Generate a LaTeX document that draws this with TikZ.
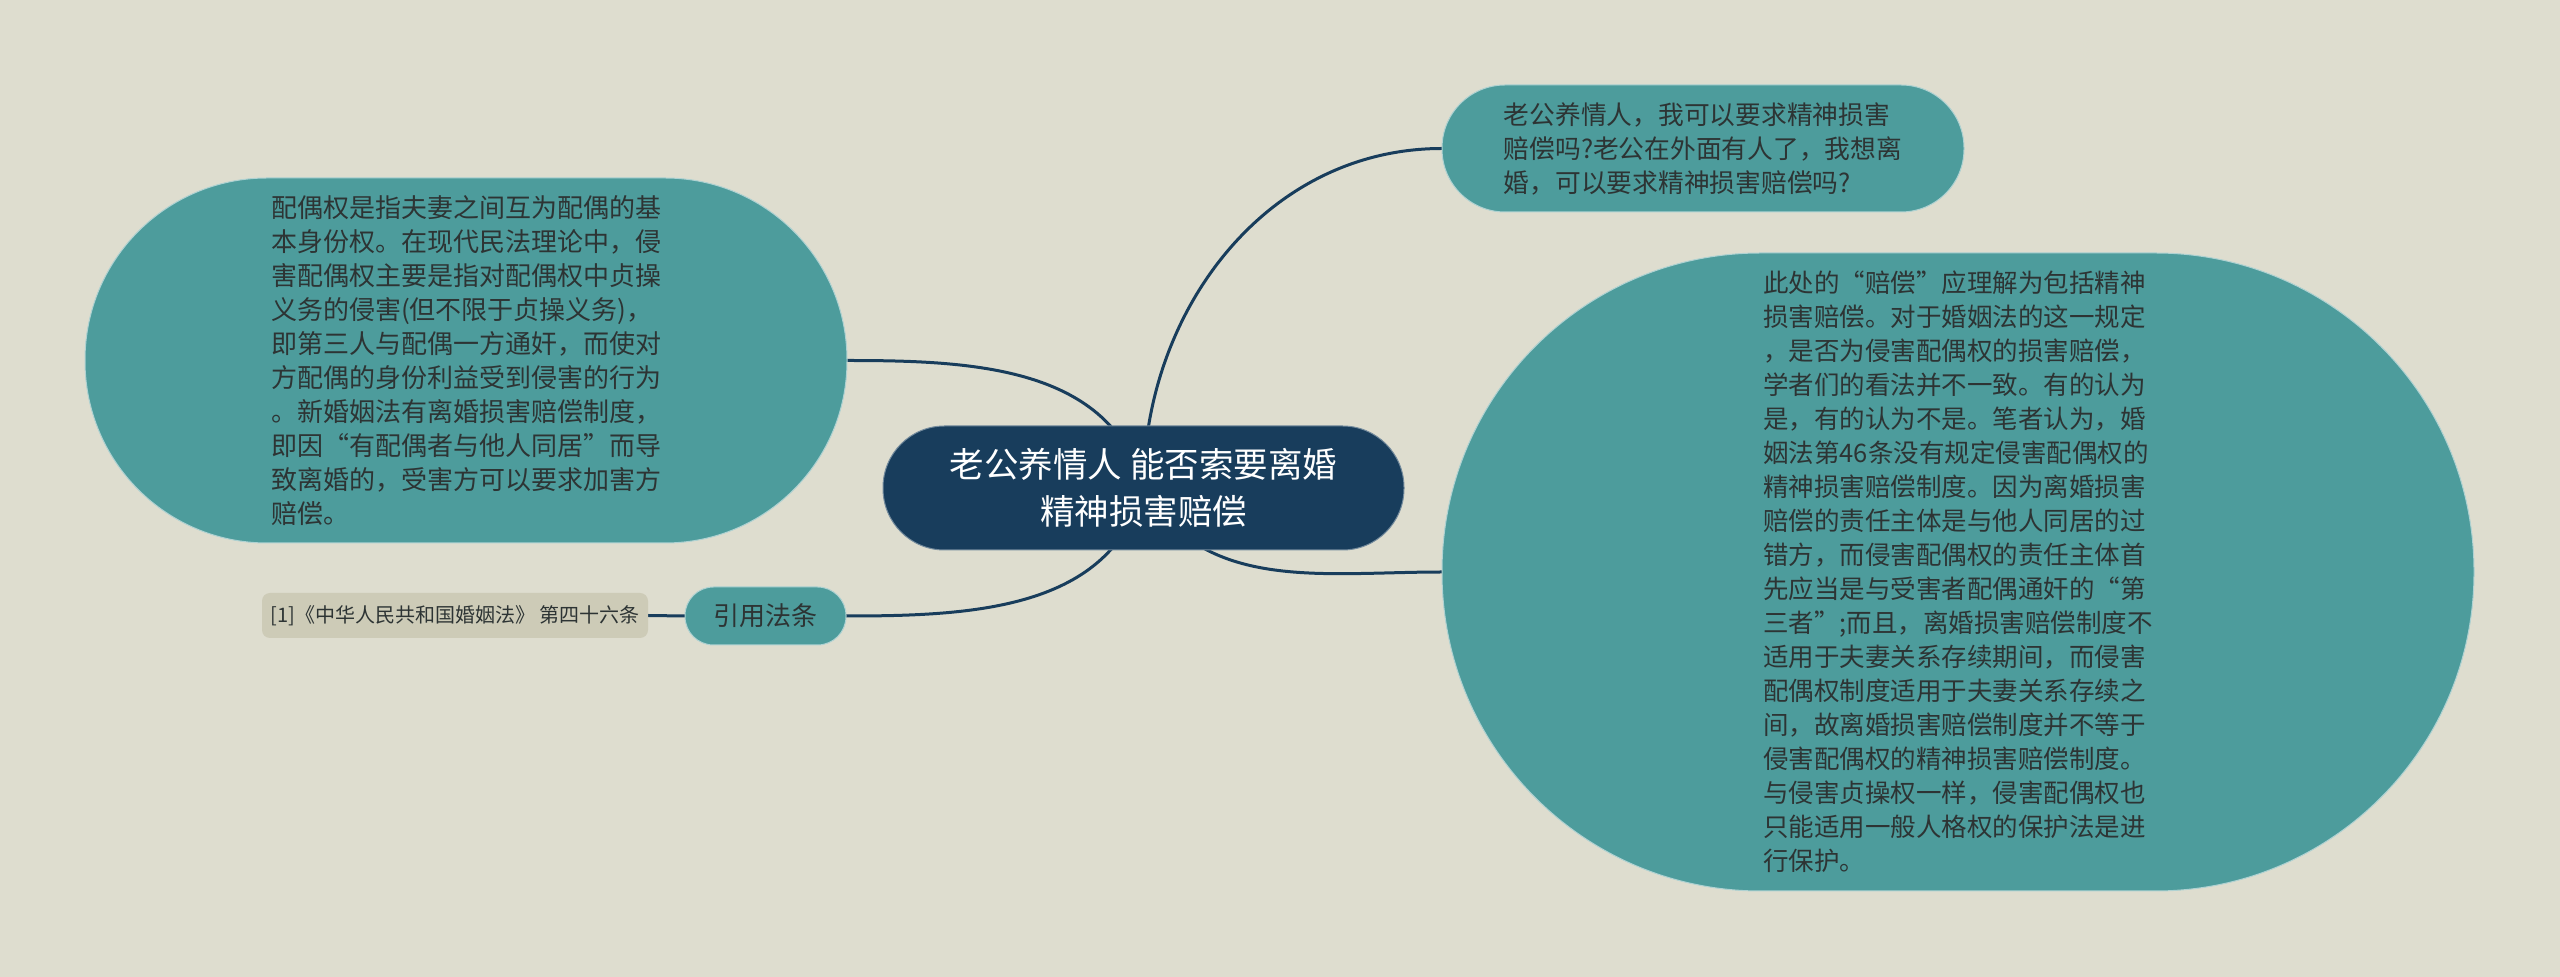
\documentclass[tikz,border=0pt]{standalone}
\usepackage{fontspec}
\setmainfont{Noto Sans CJK SC}
\usepackage{tikz}
\usetikzlibrary{backgrounds}
\definecolor{fond}{RGB}{222,221,207}
\definecolor{sarcelle}{RGB}{77,156,156}
\definecolor{marine}{RGB}{24,61,92}
\definecolor{encre}{RGB}{45,52,52}
\definecolor{papier}{RGB}{205,203,183}
\tikzstyle{lien}=[line width=0.06cm,draw=marine]
\tikzstyle{bulle}=[fill=sarcelle,draw=white!55!sarcelle,line width=0.02cm,text=encre,inner sep=0pt,outer sep=0pt,align=left,font={\fontsize{0.52cm}{0.68cm}\selectfont}]

\begin{document}
\begin{tikzpicture}
	%Racine
	\node[fill=marine,draw=white!40!marine,line width=0.02cm,text=white,inner sep=0pt,outer sep=0pt,align=center,minimum width=10.42cm,minimum height=2.48cm,rounded corners=1.23cm,font={\fontsize{0.69cm}{0.95cm}\selectfont}] (R) at (22.87,9.78) {老公养情人 能否索要离婚\\精神损害赔偿};

	%branches de droite
	\node[bulle,minimum width=10.44cm,minimum height=2.54cm,rounded corners=1.26cm,font={\fontsize{0.515cm}{0.68cm}\selectfont}] (Q) at (34.06,16.57) {老公养情人，我可以要求精神损害\\赔偿吗?老公在外面有人了，我想离\\婚，可以要求精神损害赔偿吗?};
	\node[bulle,minimum width=20.64cm,minimum height=12.76cm,rounded corners=6.37cm,font={\fontsize{0.51cm}{0.68cm}\selectfont}] (E) at (39.16,8.10) {此处的“赔偿”应理解为包括精神\\损害赔偿。对于婚姻法的这一规定\\，是否为侵害配偶权的损害赔偿，\\学者们的看法并不一致。有的认为\\是，有的认为不是。笔者认为，婚\\姻法第46条没有规定侵害配偶权的\\精神损害赔偿制度。因为离婚损害\\赔偿的责任主体是与他人同居的过\\错方，而侵害配偶权的责任主体首\\先应当是与受害者配偶通奸的“第\\三者”;而且，离婚损害赔偿制度不\\适用于夫妻关系存续期间，而侵害\\配偶权制度适用于夫妻关系存续之\\间，故离婚损害赔偿制度并不等于\\侵害配偶权的精神损害赔偿制度。\\与侵害贞操权一样，侵害配偶权也\\只能适用一般人格权的保护法是进\\行保护。};

	%branches de gauche
	\node[bulle,minimum width=15.24cm,minimum height=7.30cm,rounded corners=3.64cm] (D) at (9.32,12.33) {配偶权是指夫妻之间互为配偶的基\\本身份权。在现代民法理论中，侵\\害配偶权主要是指对配偶权中贞操\\义务的侵害(但不限于贞操义务)，\\即第三人与配偶一方通奸，而使对\\方配偶的身份利益受到侵害的行为\\。新婚姻法有离婚损害赔偿制度，\\即因“有配偶者与他人同居”而导\\致离婚的，受害方可以要求加害方\\赔偿。};
	\node[bulle,minimum width=3.22cm,minimum height=1.16cm,rounded corners=0.57cm,font={\fontsize{0.52cm}{0.6cm}\selectfont}] (C) at (15.31,7.22) {引用法条};
	\node[fill=papier,text=encre,inner sep=0pt,outer sep=0pt,minimum width=7.72cm,minimum height=0.90cm,rounded corners=0.16cm,font={\fontsize{0.40cm}{0.45cm}\selectfont}] (L) at (9.10,7.23) {[1]《中华人民共和国婚姻法》 第四十六条};

	\begin{scope}[on background layer]
	\fill[fond] (0,0) rectangle (51.2,19.54);
	\draw[lien] (R.center) to[out=90,in=180] (Q.west);
	\draw[lien] (R.center) to[out=-60,in=180] (E.west);
	\draw[lien] (R.center) to[out=105,in=0] (D.east);
	\draw[lien] (R.center) to[out=-105,in=0] (C.east);
	\draw[lien] (C.west)--(L.east);
	\end{scope}
\end{tikzpicture}
\end{document}
